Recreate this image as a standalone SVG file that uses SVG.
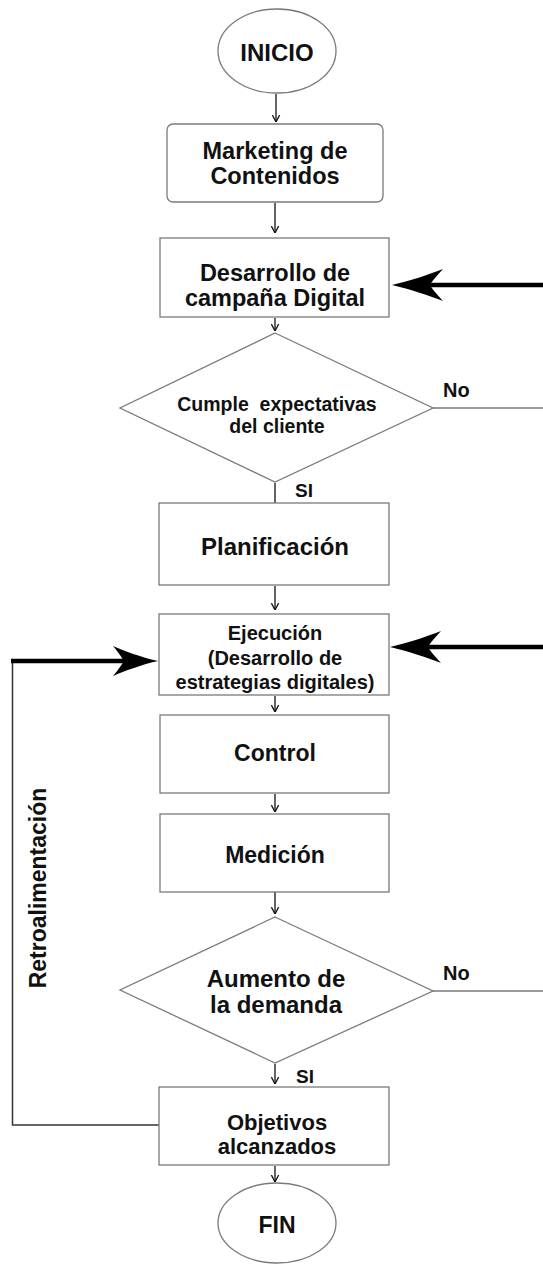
<svg xmlns="http://www.w3.org/2000/svg" width="543" height="1266" viewBox="0 0 543 1266">
<style>
.box{fill:#fff;stroke:#7a7a7a;stroke-width:1.3}
.t{font-family:"Liberation Sans",Arial,sans-serif;font-weight:bold;fill:#111;text-anchor:middle}
.lab{font-family:"Liberation Sans",Arial,sans-serif;font-weight:bold;fill:#111}
.thin{fill:none;stroke:#111;stroke-width:1.3}
.gray{fill:none;stroke:#7a7a7a;stroke-width:1.3}
.thick{fill:none;stroke:#000;stroke-width:4.5}
.head{fill:#000;stroke:none}
</style>
<defs>
<marker id="sm" viewBox="0 0 8 10" refX="8" refY="5" markerWidth="7" markerHeight="9" markerUnits="userSpaceOnUse" orient="auto">
<path d="M0,0.8 L8,5 L0,9.2" fill="none" stroke="#111" stroke-width="1.5"/>
</marker>
</defs>
<g id="connectors">
<line class="thin" x1="276" y1="94" x2="276" y2="122" marker-end="url(#sm)"/>
<line class="thin" x1="275" y1="203" x2="275" y2="233" marker-end="url(#sm)"/>
<line class="thin" x1="275" y1="318" x2="275" y2="331" marker-end="url(#sm)"/>
<line class="thin" x1="275" y1="483" x2="275" y2="517" marker-end="url(#sm)"/>
<line class="thin" x1="275" y1="586" x2="275" y2="610" marker-end="url(#sm)"/>
<line class="thin" x1="275" y1="696" x2="275" y2="712" marker-end="url(#sm)"/>
<line class="thin" x1="275" y1="794" x2="275" y2="812" marker-end="url(#sm)"/>
<line class="thin" x1="275" y1="892" x2="275" y2="914" marker-end="url(#sm)"/>
<line class="thin" x1="275" y1="1064" x2="275" y2="1084" marker-end="url(#sm)"/>
<line class="thin" x1="275" y1="1166" x2="275" y2="1182" marker-end="url(#sm)" stroke-width="2"/>
<line class="gray" x1="433" y1="408" x2="543" y2="408"/>
<line class="gray" x1="433" y1="991" x2="543" y2="991"/>
<line class="thick" x1="543" y1="285" x2="428" y2="285"/>
<path class="head" d="M392,285 C410,281 430,274 443,269 C436,277 432,281 430,285 C432,289 436,293 443,301 C430,296 410,289 392,285 Z"/>
<line class="thick" x1="543" y1="647" x2="426" y2="647"/>
<path class="head" d="M390,647 C408,643 428,636 441,631 C434,639 430,643 428,647 C430,651 434,655 441,663 C428,658 408,651 390,647 Z"/>
<polyline points="159,1125 12.5,1125 12.5,661" fill="none" stroke="#333" stroke-width="1.5"/>
<line class="thick" x1="11" y1="661" x2="126" y2="661"/>
<path class="head" d="M158,661 C140,657 125,651 113,646 C119,653 122,658 124,661 C122,664 119,669 113,676 C125,671 140,665 158,661 Z"/>
</g>
<g id="inicio">
<ellipse class="box" cx="277" cy="51" rx="59" ry="42"/>
<text class="t" x="277" y="61" font-size="24">INICIO</text>
</g>
<g id="marketing">
<rect class="box" x="167" y="124" width="216" height="78" rx="6"/>
<text class="t" x="275" y="159" font-size="23.5">Marketing de</text>
<text class="t" x="275" y="184" font-size="23.5">Contenidos</text>
</g>
<g id="desarrollo">
<rect class="box" x="160" y="238" width="229" height="79"/>
<text class="t" x="275" y="281" font-size="23.5">Desarrollo de</text>
<text class="t" x="275" y="306" font-size="23.5">campaña Digital</text>
</g>
<g id="decision1">
<polygon class="box" points="275,333 433,408 275,482 120,408"/>
<text class="t" x="277" y="411" font-size="19.5" style="white-space:pre">Cumple  expectativas</text>
<text class="t" x="277" y="433" font-size="19.5">del cliente</text>
<text class="lab" x="443" y="397" font-size="20">No</text>
<text class="lab" x="295" y="497" font-size="19">SI</text>
</g>
<g id="planificacion">
<rect class="box" x="159" y="503" width="230" height="82"/>
<text class="t" x="275" y="555" font-size="24">Planificación</text>
</g>
<g id="ejecucion">
<rect class="box" x="159" y="614" width="230" height="81"/>
<text class="t" x="275" y="640" font-size="20">Ejecución</text>
<text class="t" x="275" y="665" font-size="20">(Desarrollo de</text>
<text class="t" x="275" y="689" font-size="20">estrategias digitales)</text>
</g>
<g id="control">
<rect class="box" x="160" y="715" width="229" height="78"/>
<text class="t" x="275" y="761" font-size="23">Control</text>
</g>
<g id="medicion">
<rect class="box" x="160" y="814" width="229" height="78"/>
<text class="t" x="275" y="863" font-size="23">Medición</text>
</g>
<g id="decision2">
<polygon class="box" points="275,917 433,991 275,1063 120,990"/>
<text class="t" x="276" y="987" font-size="24">Aumento de</text>
<text class="t" x="276" y="1013" font-size="24">la demanda</text>
<text class="lab" x="443" y="980" font-size="20">No</text>
<text class="lab" x="296" y="1083" font-size="19">SI</text>
</g>
<g id="objetivos">
<rect class="box" x="159" y="1087" width="230" height="78"/>
<text class="t" x="277" y="1130" font-size="22">Objetivos</text>
<text class="t" x="277" y="1154" font-size="22">alcanzados</text>
</g>
<g id="fin">
<ellipse class="box" cx="277" cy="1223" rx="59" ry="40"/>
<text class="t" x="277" y="1233" font-size="23">FIN</text>
</g>
<g id="retro-label">
<text class="t" x="0" y="0" font-size="23" transform="translate(46,888) rotate(-90)">Retroalimentación</text>
</g>
</svg>
